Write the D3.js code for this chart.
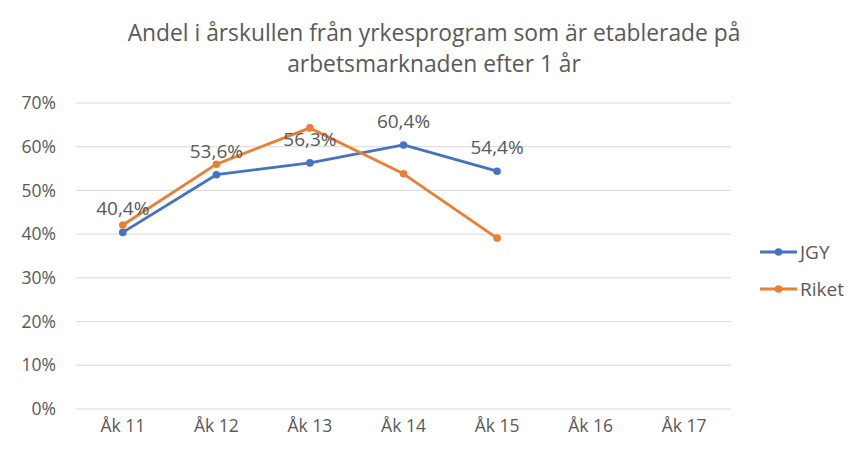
<!DOCTYPE html>
<html>
  <head>
    <meta charset="utf-8">
    <title>Andel etablerade</title>
    <script src="https://cdn.jsdelivr.net/npm/d3@7"></script>
    <style>
      body { margin: 0; background: #fff; }
      text { font-family: "Open Sans", "Noto Sans", sans-serif; fill: #595959; }
    </style>
  </head>
  <body>
    <svg width="847" height="454" id="mainsvg"></svg>
    <script>
      const categories = ['Åk 11', 'Åk 12', 'Åk 13', 'Åk 14', 'Åk 15', 'Åk 16', 'Åk 17'];
      const jgy = [40.4, 53.6, 56.3, 60.4, 54.4];
      const riket = [42.1, 56.0, 64.3, 53.8, 39.1];
      const yTicks = [0, 10, 20, 30, 40, 50, 60, 70];
      const titleLines = ['Andel i årskullen från yrkesprogram som är etablerade på', 'arbetsmarknaden efter 1 år'];

      const series = [
        {name: 'JGY', values: jgy, color: '#4472C4'},
        {name: 'Riket', values: riket, color: '#ED7D31'}
      ];

      const svg = d3.select('#mainsvg');
      const margin = {top: 103, left: 76, right: 116, bottom: 45};
      const width = +svg.attr('width');
      const height = +svg.attr('height');
      const innerWidth = width - margin.left - margin.right;
      const innerHeight = height - margin.top - margin.bottom;

      svg.append('rect').attr('width', width).attr('height', height).attr('fill', '#fff');

      const g = svg.append('g')
        .attr('transform', `translate(${margin.left}, ${margin.top})`);

      const xScale = d3.scaleBand()
        .domain(categories)
        .range([0, innerWidth]);

      const yScale = d3.scaleLinear()
        .domain([0, 70])
        .range([innerHeight, 0]);

      // gridlines
      g.append('g').selectAll('line')
        .data(yTicks)
        .join('line')
        .attr('x1', 0).attr('x2', innerWidth)
        .attr('y1', d => yScale(d)).attr('y2', d => yScale(d))
        .attr('stroke', '#d9d9d9')
        .attr('stroke-width', 1);

      const yAxis = d3.axisLeft(yScale).tickValues(yTicks).tickSize(0).tickPadding(20)
        .tickFormat(d => d + '%');
      g.append('g').call(yAxis)
        .call(a => a.select('.domain').remove())
        .selectAll('text').style('font-size', '17.5px');

      const xAxis = d3.axisBottom(xScale).tickSize(0).tickPadding(11);
      g.append('g').attr('transform', `translate(0, ${innerHeight})`).call(xAxis)
        .call(a => a.select('.domain').remove())
        .selectAll('text').style('font-size', '17.5px');

      const xPos = i => xScale(categories[i]) + xScale.bandwidth() / 2;
      const line = d3.line().x((d, i) => xPos(i)).y(d => yScale(d));

      series.forEach(s => {
        g.append('path')
          .datum(s.values)
          .attr('d', line)
          .attr('fill', 'none')
          .attr('stroke', s.color)
          .attr('stroke-width', 2.8)
          .attr('stroke-linejoin', 'round')
          .attr('stroke-linecap', 'round');
        g.append('g').selectAll('circle')
          .data(s.values)
          .join('circle')
          .attr('cx', (d, i) => xPos(i))
          .attr('cy', d => yScale(d))
          .attr('r', 3.8)
          .attr('fill', s.color);
      });

      // data labels for JGY
      g.append('g').selectAll('text')
        .data(jgy)
        .join('text')
        .attr('x', (d, i) => xPos(i))
        .attr('y', d => yScale(d) - 17)
        .attr('text-anchor', 'middle')
        .attr('font-size', '19px')
        .text(d => d.toFixed(1).replace('.', ',') + '%');

      // title
      svg.append('g').selectAll('text')
        .data(titleLines)
        .join('text')
        .attr('x', 434)
        .attr('y', (d, i) => 41 + i * 31)
        .attr('text-anchor', 'middle')
        .attr('font-size', '22.8px')
        .text(d => d);

      // legend
      const legend = svg.append('g').attr('transform', 'translate(760, 252)');
      series.forEach((s, i) => {
        const lg = legend.append('g').attr('transform', `translate(0, ${i * 37})`);
        lg.append('line').attr('x1', 0).attr('x2', 37).attr('y1', 0).attr('y2', 0)
          .attr('stroke', s.color).attr('stroke-width', 2.8);
        lg.append('circle').attr('cx', 18.5).attr('cy', 0).attr('r', 3.8).attr('fill', s.color);
        lg.append('text').attr('x', 40).attr('y', 7).attr('font-size', '19px').text(s.name);
      });
    </script>
  </body>
</html>
